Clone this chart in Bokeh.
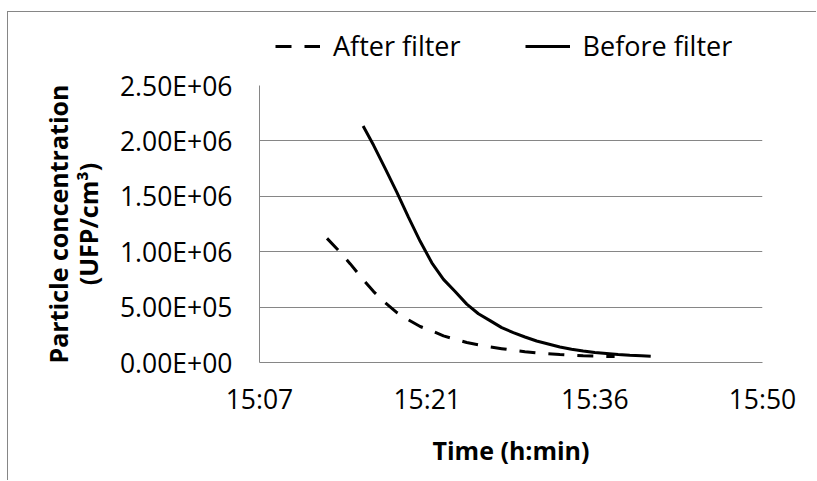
from bokeh.plotting import figure
from bokeh.models import FixedTicker, Legend, LegendItem, Range1d
from bokeh.layouts import column
from bokeh.embed import file_html
from bokeh.resources import INLINE

# time in minutes after 15:00
after_time = [13.0, 14, 15, 16, 17, 18, 19, 20, 21, 22, 23, 24, 25, 26, 27, 28,
              29, 30, 31, 32, 33, 34, 35, 36, 37, 37.7]
after_conc = [1.12e6, 1.01e6, 0.89e6, 0.76e6, 0.64e6, 0.54e6, 0.45e6, 0.385e6,
              0.325e6, 0.285e6, 0.24e6, 0.21e6, 0.18e6, 0.16e6, 0.14e6, 0.125e6,
              0.11e6, 0.098e6, 0.088e6, 0.079e6, 0.072e6, 0.066e6, 0.061e6,
              0.058e6, 0.055e6, 0.054e6]
before_time = [16.1, 17, 18, 19, 20, 21, 22, 23, 24, 25, 26, 27, 28, 29, 30, 31,
               32, 33, 34, 35, 36, 37, 38, 39, 40, 40.8]
before_conc = [2.135e6, 1.96e6, 1.75e6, 1.536e6, 1.31e6, 1.094e6, 0.90e6, 0.75e6,
               0.64e6, 0.527e6, 0.44e6, 0.378e6, 0.315e6, 0.27e6, 0.23e6, 0.194e6,
               0.167e6, 0.14e6, 0.12e6, 0.104e6, 0.09e6, 0.081e6, 0.072e6, 0.066e6,
               0.061e6, 0.057e6]

x_ticks = [7.2, 21.6, 36.0, 50.4]
x_tick_labels = ["15:07", "15:21", "15:36", "15:50"]
y_ticks = [0, 5e5, 1e6, 1.5e6, 2e6, 2.5e6]
y_tick_labels = ["0.00E+00", "5.00E+05", "1.00E+06", "1.50E+06", "2.00E+06", "2.50E+06"]

series_names = ["After filter", "Before filter"]
x_title = "Time (h:min)"
y_title = "Particle concentration\n(UFP/cm³)"

FONT = "Open Sans"
GRAY = "#868686"
DASH = "16 13"

# ---- main chart ----
p = figure(width=808, height=414, output_backend="svg", toolbar_location=None,
           x_range=Range1d(x_ticks[0], x_ticks[-1]),
           y_range=Range1d(y_ticks[0], y_ticks[-1]),
           min_border_left=251, min_border_right=54,
           min_border_top=19, min_border_bottom=118)
p.outline_line_color = None
p.background_fill_color = "white"
p.border_fill_color = "white"

p.xgrid.visible = False
p.ygrid.ticker = FixedTicker(ticks=y_ticks)
p.ygrid.grid_line_color = GRAY
p.ygrid.grid_line_width = 1

p.xaxis.ticker = FixedTicker(ticks=x_ticks)
p.xaxis.major_label_overrides = dict(zip(x_ticks, x_tick_labels))
p.yaxis.ticker = FixedTicker(ticks=y_ticks)
p.yaxis.major_label_overrides = dict(zip(y_ticks, y_tick_labels))

for ax in (p.xaxis, p.yaxis):
    ax.axis_line_color = GRAY
    ax.axis_line_width = 1
    ax.major_tick_line_color = None
    ax.minor_tick_line_color = None
    ax.major_tick_out = 0
    ax.major_tick_in = 0
    ax.major_label_text_font = FONT
    ax.major_label_text_font_size = "26.5px"
    ax.major_label_text_color = "black"
    ax.axis_label_text_font = FONT
    ax.axis_label_text_font_size = "25px"
    ax.axis_label_text_font_style = "bold"
    ax.axis_label_text_color = "black"

p.xaxis.major_label_standoff = 18
p.yaxis.major_label_standoff = 27
p.xaxis.axis_label = x_title
p.xaxis.axis_label_standoff = 13
p.yaxis.axis_label = y_title
p.yaxis.axis_label_standoff = 12
p.yaxis.axis_label_text_line_height = 0.88

p.line(after_time, after_conc, line_color="black", line_width=3, line_dash=DASH)
p.line(before_time, before_conc, line_color="black", line_width=3)

# ---- legend strip above the chart (its frame is aligned with the chart's) ----
lg = figure(width=808, height=54, output_backend="svg", toolbar_location=None,
            x_range=Range1d(0, 1), y_range=Range1d(0, 1),
            x_axis_type=None, y_axis_type=None,
            min_border_left=0, min_border_right=0,
            min_border_top=0, min_border_bottom=0)
lg.outline_line_color = None
lg.xgrid.visible = False
lg.ygrid.visible = False
lg.background_fill_color = "white"
lg.border_fill_color = "white"
# same series, lying outside this strip's ranges: only their legend keys show
k_after = lg.line(after_time, after_conc, line_color="black", line_width=3,
                  line_dash=DASH)
k_before = lg.line(before_time, before_conc, line_color="black", line_width=3)

legend = Legend(items=[LegendItem(label=series_names[0], renderers=[k_after]),
                       LegendItem(label=series_names[1], renderers=[k_before])],
                orientation="horizontal", location=(16, 2),
                glyph_width=45, glyph_height=20, label_standoff=13, spacing=64,
                padding=0, margin=0, border_line_color=None,
                background_fill_alpha=0,
                label_text_font=FONT, label_text_font_size="27px",
                label_text_color="black")
lg.add_layout(legend, "center")

layout = column(lg, p, spacing=0,
                styles={"margin-top": "11px", "margin-left": "7px",
                        "border-top": "1px solid #868686",
                        "border-left": "1px solid #868686"})

open("out.html", "w").write(file_html(layout, INLINE))
